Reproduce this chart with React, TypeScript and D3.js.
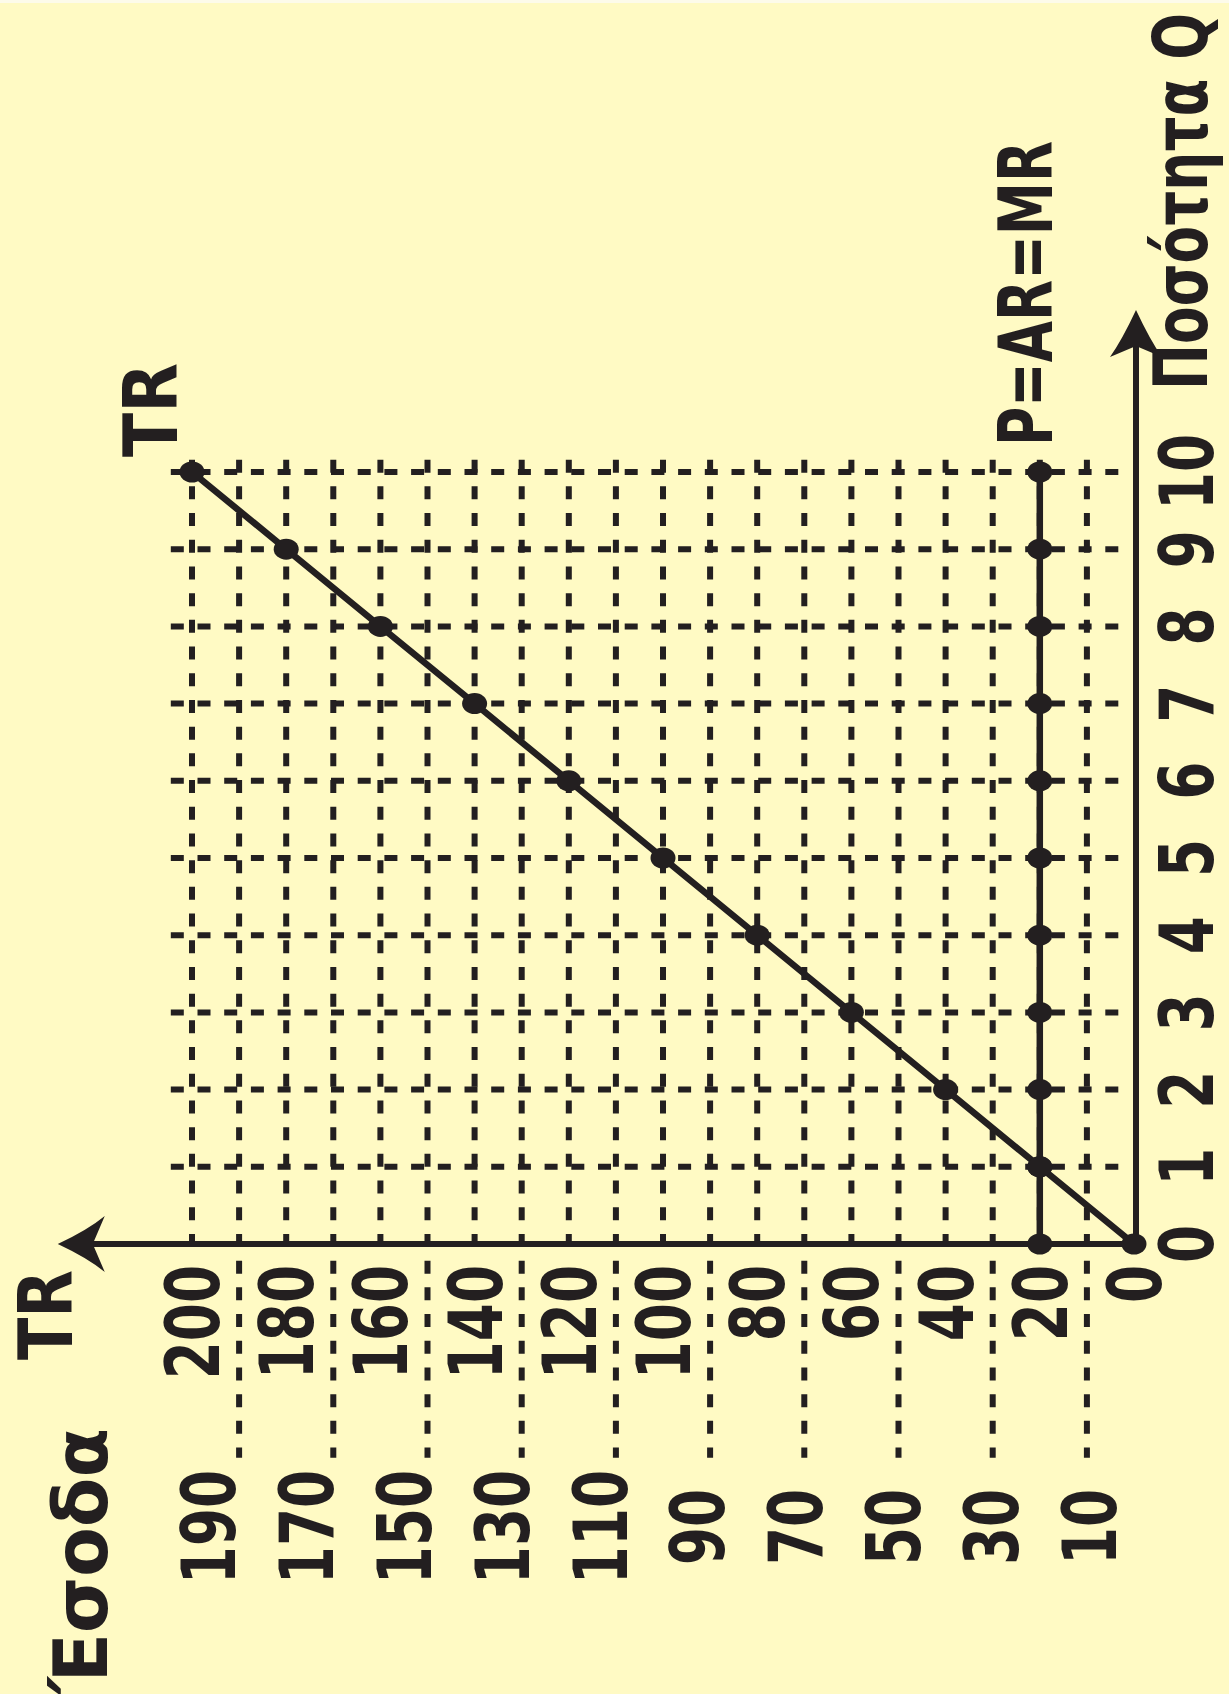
import * as d3 from "d3";

// Quantity Q and the two revenue series
const quantity = [0, 1, 2, 3, 4, 5, 6, 7, 8, 9, 10];
const totalRevenue = [0, 20, 40, 60, 80, 100, 120, 140, 160, 180, 200];
const priceMR = [20, 20, 20, 20, 20, 20, 20, 20, 20, 20, 20];

// tick labels of the revenue axis
const evenTicks = [0, 20, 40, 60, 80, 100, 120, 140, 160, 180, 200];
const oddTicks = [10, 30, 50, 70, 90, 110, 130, 150, 170, 190];

const W = 1229;
const H = 1694;
const ink = "#231F20";
const bg = "#FFFAC4";
const numFont = "'DejaVu Sans', sans-serif";
const titleFont = "'DejaVu Sans', sans-serif";

const App = () => {
  // the chart is turned a quarter turn: TR runs to the left, Q runs up
  const x = d3.scaleLinear().domain([0, 200]).range([1134, 192]);
  const y = d3.scaleLinear().domain([0, 10]).range([1244, 472]);
  // the odd labels sit on a slightly wider spacing than the grid
  const xOddLabel = d3.scaleLinear().domain([10, 190]).range([1089, 208]);

  const gridTop = y(10.16);
  const gridBottomOdd = y(-2.77);
  const hLeft = x(204.5);
  const hRight = x(2.4);
  const dash = "13 13.7";

  const points = quantity.map((q, i) => ({ q, tr: totalRevenue[i], p: priceMR[i] }));
  const trLine = d3
    .line<{ q: number; tr: number }>()
    .x((d) => x(d.tr))
    .y((d) => y(d.q));

  const ox = x(0);
  const oy = y(0);
  // arrow tips
  const qTipY = y(12.1);
  const trTipX = x(228.5);

  const numText = (
    key: string,
    tx: number,
    ty: number,
    label: string | number,
    anchor: string
  ) => (
    <g key={key} transform={`translate(${tx},${ty}) rotate(-90) scale(0.73,1)`}>
      <text
        x={0}
        y={0}
        textAnchor={anchor}
        fontFamily={numFont}
        fontWeight="bold"
        fontSize={75}
        fill={ink}
      >
        {label}
      </text>
    </g>
  );

  const title = (label: string, bx: number, endY: number, len: number) => (
    <g transform={`translate(${bx},${endY}) rotate(-90)`}>
      <text
        x={0}
        y={0}
        textAnchor="end"
        fontFamily={titleFont}
        fontWeight="bold"
        fontSize={75}
        fill={ink}
        textLength={len}
        lengthAdjust="spacingAndGlyphs"
      >
        {label}
      </text>
    </g>
  );

  return (
    <svg
      width={W}
      height={H}
      style={{ position: "absolute", left: 0, top: 0, display: "block" }}
    >
      <rect x={0} y={0} width={W} height={H} fill={bg} />
      <rect x={0} y={0} width={W} height={3} fill="#FDFBEA" />

      {/* dashed grid */}
      <g stroke={ink} strokeWidth={6} strokeDasharray={dash} fill="none">
        {quantity.slice(1).map((q) => (
          <line key={"h" + q} x1={hLeft} x2={hRight} y1={y(q)} y2={y(q)} />
        ))}
        {evenTicks.slice(1).map((v) => (
          <line key={"ve" + v} x1={x(v)} x2={x(v)} y1={gridTop} y2={oy} />
        ))}
        {oddTicks.map((v) => (
          <line key={"vo" + v} x1={x(v)} x2={x(v)} y1={gridTop} y2={gridBottomOdd} />
        ))}
      </g>

      {/* P = AR = MR */}
      <line
        x1={x(priceMR[0])}
        x2={x(priceMR[priceMR.length - 1])}
        y1={y(0)}
        y2={y(10)}
        stroke={ink}
        strokeWidth={6.5}
      />
      {/* TR */}
      <path d={trLine(points) || ""} fill="none" stroke={ink} strokeWidth={6.5} />

      {/* axes */}
      <line x1={ox} x2={trTipX + 30} y1={oy} y2={oy} stroke={ink} strokeWidth={6} />
      <path
        d={`M${trTipX},${oy} Q${trTipX + 30},${oy - 14} ${trTipX + 47},${oy - 28} L${trTipX + 35},${oy} L${trTipX + 47},${oy + 28} Q${trTipX + 30},${oy + 14} ${trTipX},${oy} Z`}
        fill={ink}
      />
      <line x1={ox + 2} x2={ox + 2} y1={oy} y2={qTipY + 30} stroke={ink} strokeWidth={6} />
      <path
        d={`M${ox + 2},${qTipY} Q${ox + 16},${qTipY + 30} ${ox + 28},${qTipY + 47} L${ox + 2},${qTipY + 36} L${ox - 24},${qTipY + 47} Q${ox - 12},${qTipY + 30} ${ox + 2},${qTipY} Z`}
        fill={ink}
      />

      {/* dots */}
      <g fill={ink}>
        {points.map((d) => (
          <ellipse key={"t" + d.q} cx={x(d.tr)} cy={y(d.q)} rx={12.5} ry={10.5} />
        ))}
        {points.map((d) => (
          <ellipse key={"p" + d.q} cx={x(d.p)} cy={y(d.q)} rx={12.5} ry={10.5} />
        ))}
      </g>

      {/* tick labels */}
      {evenTicks.map((v) => numText("e" + v, x(v) + 27, 1265, v, "end"))}
      {oddTicks.map((v) => numText("o" + v, xOddLabel(v) + 27, 1527, v, "middle"))}
      {quantity.map((q) => numText("q" + q, 1213, y(q), q, "middle"))}

      {/* titles */}
      {title("TR", 177, 363, 94)}
      {title("TR", 72, 1270, 90)}
      {title("Έσοδα", 107, 1428, 266)}
      {title("P=AR=MR", 1052, 141, 305)}
      {title("Ποσότητα Q", 1207, 13, 377)}
    </svg>
  );
};

export default App;
